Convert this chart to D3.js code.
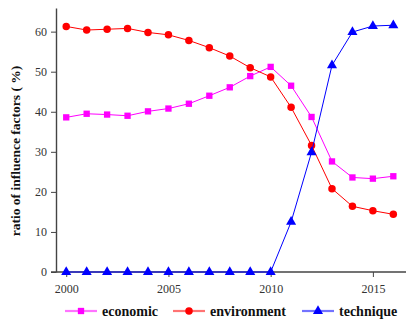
<!DOCTYPE html>
<html>
<head>
<meta charset="utf-8">
<script src="https://cdn.jsdelivr.net/npm/d3@7/dist/d3.min.js"></script>
<style>
  html, body { margin: 0; padding: 0; background: #fff; }
  svg { display: block; }
  text { font-family: "Liberation Serif", "Times New Roman", serif; }
</style>
</head>
<body>
<svg id="chart" width="406" height="323"></svg>
<script>
// Years on the horizontal axis
const years = [2000, 2001, 2002, 2003, 2004, 2005, 2006, 2007, 2008,
               2009, 2010, 2011, 2012, 2013, 2014, 2015, 2016];

// Share of each influence factor (%)
const economic    = [38.6, 39.5, 39.3, 39.0, 40.1, 40.8, 42.0, 44.0, 46.1,
                     48.9, 51.2, 46.5, 38.7, 27.6, 23.6, 23.3, 23.9];
const environment = [61.3, 60.4, 60.6, 60.8, 59.8, 59.2, 57.8, 56.0, 53.9,
                     51.0, 48.7, 41.1, 31.6, 20.8, 16.4, 15.3, 14.4];
const technique   = [0, 0, 0, 0, 0, 0, 0, 0, 0,
                     0, 0, 12.5, 29.9, 51.6, 59.9, 61.4, 61.6];

const xTicks = [2000, 2005, 2010, 2015];
const yTicks = [0, 10, 20, 30, 40, 50, 60];

const seriesNames = ["economic", "environment", "technique"];
const seriesValues = [economic, environment, technique];
const seriesColors = ["#ff00ff", "#ff0000", "#0000ff"];
const seriesShapes = [d3.symbolSquare, d3.symbolCircle, d3.symbolTriangle];

const svg = d3.select("#chart");
const margin = { left: 56, right: 0, top: 8, bottom: 51 };
const W = 406, H = 323;

const x = d3.scaleLinear().domain([1999.5, 2016.62]).range([margin.left, W - margin.right]);
const y = d3.scaleLinear().domain([0, 65.9]).range([H - margin.bottom, margin.top]);

// Axes
const axisColor = "#444";
const xAxis = svg.append("g")
  .attr("transform", `translate(0,${y(0)})`)
  .call(d3.axisBottom(x).tickValues(xTicks).tickFormat(d3.format("d")).tickSize(5).tickSizeOuter(0));
const yAxis = svg.append("g")
  .attr("transform", `translate(${x(1999.5)},0)`)
  .call(d3.axisLeft(y).tickValues(yTicks).tickSize(5).tickSizeOuter(0));

[xAxis, yAxis].forEach(g => {
  g.select(".domain").attr("stroke", axisColor).attr("stroke-width", 1.4);
  g.selectAll(".tick line").attr("stroke", axisColor).attr("stroke-width", 1);
  g.selectAll(".tick text").attr("fill", "#333").style("font-size", "12px")
    .style("font-family", "'Liberation Serif', serif");
});
xAxis.selectAll(".tick text").attr("dy", "1.05em");
yAxis.selectAll(".tick text").attr("x", -9);
// extend baseline slightly left, joining the zero tick
xAxis.select(".domain").attr("d", `M${x(1999.5) - 5},0H${W}`);

// Y-axis title
svg.append("text")
  .attr("transform", `translate(20,${(y(0) + margin.top) / 2 + 11}) rotate(-90)`)
  .attr("text-anchor", "middle")
  .style("font-size", "13.5px")
  .style("font-weight", "bold")
  .attr("fill", "#111")
  .text("ratio of influence factors ( %)");

// Lines and markers
const line = d3.line().x((d, i) => x(years[i])).y(d => y(d));
const symbolSizes = [40, 44, 44];

seriesValues.forEach((vals, s) => {
  svg.append("path")
    .datum(vals)
    .attr("fill", "none")
    .attr("stroke", seriesColors[s])
    .attr("stroke-width", 1)
    .attr("d", line);
  svg.append("g").selectAll("path")
    .data(vals)
    .join("path")
    .attr("transform", (d, i) => `translate(${x(years[i])},${y(d)})`)
    .attr("d", d3.symbol().type(seriesShapes[s]).size(symbolSizes[s]))
    .attr("fill", seriesColors[s]);
});

// Legend
const legendY = 311;
const legendX = [65, 173, 302];
seriesNames.forEach((name, s) => {
  const g = svg.append("g").attr("transform", `translate(${legendX[s]},${legendY})`);
  g.append("line").attr("x1", 0).attr("x2", 32).attr("y1", 0).attr("y2", 0)
    .attr("stroke", seriesColors[s]).attr("stroke-opacity", 0.55).attr("stroke-width", 2.2);
  g.append("path").attr("transform", "translate(16,0)")
    .attr("d", d3.symbol().type(seriesShapes[s]).size(symbolSizes[s]))
    .attr("fill", seriesColors[s]);
  g.append("text").attr("x", 37).attr("y", 0).attr("dy", "0.35em")
    .style("font-size", "14px").style("font-weight", "bold").attr("fill", "#111")
    .text(name);
});
</script>
</body>
</html>
